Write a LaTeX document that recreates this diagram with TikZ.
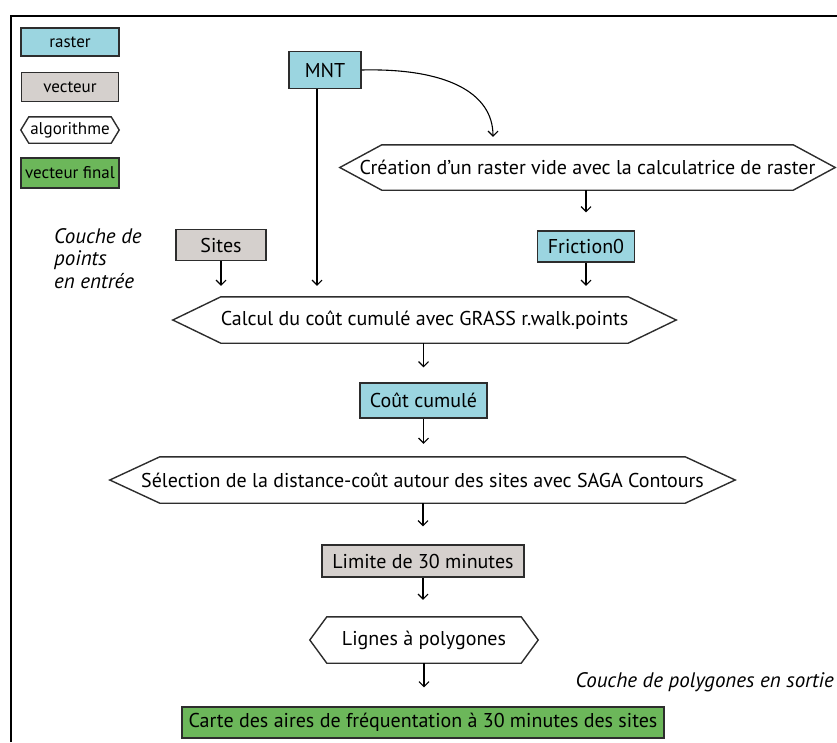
\documentclass[tikz,border=0pt]{standalone}
\usepackage{fontspec}
\setmainfont{PT Sans}
\usetikzlibrary{arrows.meta}
\definecolor{rastc}{RGB}{155,213,224}
\definecolor{vectc}{RGB}{213,208,205}
\definecolor{finc}{RGB}{108,183,90}
\definecolor{edgec}{RGB}{45,45,45}
\newcommand\hexdraw[2]{\draw[hexline] (#1.west) -- ([xshift=#2pt]#1.north west) -- ([xshift=-#2pt]#1.north east) -- (#1.east) -- ([xshift=-#2pt]#1.south east) -- ([xshift=#2pt]#1.south west) -- cycle;}
\begin{document}
\begin{tikzpicture}[x=1pt,y=-1pt,
  every node/.style={font=\fontsize{20}{22}\selectfont, inner sep=0pt},
  leg/.style={font=\fontsize{17}{19}\selectfont},
  box/.style={draw=edgec, line width=1.4pt, rectangle},
  rast/.style={box, fill=rastc},
  vect/.style={box, fill=vectc},
  vfin/.style={box, fill=finc},
  hexline/.style={draw=edgec, line width=1.4pt, line join=miter},
  arr/.style={draw=black, line width=1.1pt, -{Straight Barb[length=5pt,width=10pt]}},
  lbl/.style={font=\fontsize{21}{22.5}\selectfont\itshape, align=left}
]
\useasboundingbox (0,0) rectangle (837,742);
% frame
\draw[line width=1.6pt] (11,742) -- (11,16) -- (837,16);
% legend
\node[rast, leg, minimum width=98pt, minimum height=28pt] (lr) at (70,42) {raster};
\node[vect, leg, minimum width=97pt, minimum height=29pt] (lv) at (70,87) {vecteur};
\node[leg, minimum width=98pt, minimum height=26pt] (la) at (70,130) {algorithme};
\hexdraw{la}{8}
\node[vfin, leg, minimum width=98pt, minimum height=30pt] (lf) at (70,173) {vecteur final};
% nodes
\node[rast, minimum width=72pt, minimum height=37pt] (mnt) at (325,70) {MNT};
\node[minimum width=495pt, minimum height=45pt] (cre) at (587.5,167.5) {Création d’un raster vide avec la calculatrice de raster};
\hexdraw{cre}{42}
\node[vect, minimum width=90pt, minimum height=31pt] (sites) at (221,245) {Sites};
\node[rast, minimum width=97pt, minimum height=31pt] (fric) at (586,246.5) {Friction0};
\node[minimum width=503pt, minimum height=46pt] (calc) at (424.5,320) {Calcul du coût cumulé avec GRASS r.walk.points};
\hexdraw{calc}{48}
\node[rast, minimum width=127pt, minimum height=35pt] (cout) at (423.5,400.5) {Coût cumulé};
\node[minimum width=625pt, minimum height=46pt] (sel) at (422.5,480) {Sélection de la distance-coût autour des sites avec SAGA Contours};
\hexdraw{sel}{50}
\node[vect, minimum width=202pt, minimum height=32pt] (lim) at (423,561) {Limite de 30 minutes};
\node[minimum width=228pt, minimum height=46pt] (lig) at (424,640) {Lignes à polygones};
\hexdraw{lig}{17}
\node[vfin, minimum width=482pt, minimum height=31pt] (carte) at (423,722.5) {Carte des aires de fréquentation à 30 minutes des sites};
% labels
\node[lbl, anchor=north west] (lin) at (54,228) {Couche de\\points\\en entrée};
\node[lbl, anchor=east] (lout) at (834,682) {Couche de polygones en sortie};
% connectors
\draw[arr, shorten >=8pt] (mnt.east) .. controls (445,68) and (493,92) .. ([xshift=-94.5pt]cre.north);
\draw[arr, shorten >=11pt] ([xshift=-8pt]mnt.south) -- ([xshift=-8pt]mnt.south |- calc.north);
\draw[arr, shorten >=11pt] (sites.south) -- (sites.south |- calc.north);
\draw[arr, shorten >=11pt] (fric.south) -- (fric.south |- calc.north);
\draw[arr, shorten >=18pt] (fric.north |- cre.south) -- (fric.north);
\draw[arr, shorten >=15pt] (cout.north |- calc.south) -- (cout.north);
\draw[arr, shorten >=13pt] (cout.south) -- (cout.south |- sel.north);
\draw[arr, shorten >=18pt] (lim.north |- sel.south) -- (lim.north);
\draw[arr, shorten >=17pt] (lim.south) -- (lim.south |- lig.north);
\draw[arr, shorten >=19pt] (lig.south) -- (lig.south |- carte.north);
\end{tikzpicture}
\end{document}
